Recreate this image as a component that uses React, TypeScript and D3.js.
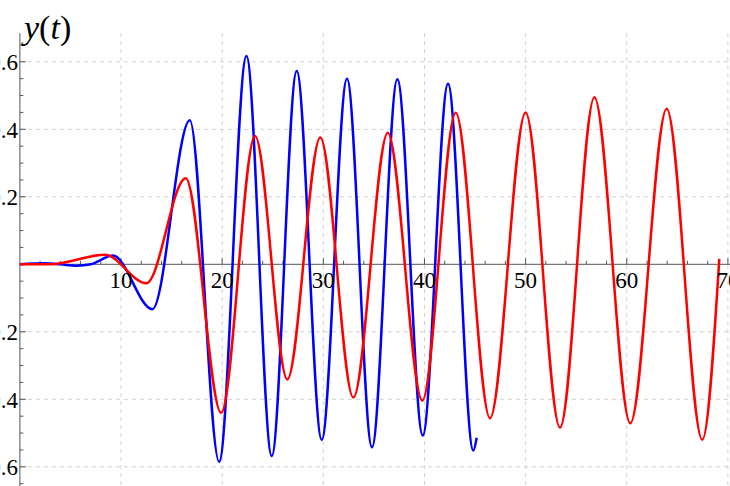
import React from "react";
import * as d3 from "d3";

// Key points (extrema): [t, y]
const blueT = [0, 2.5, 4.0, 5.6, 7.0, 9.2, 13.1, 16.8, 19.7, 22.4, 24.9, 27.37, 29.84, 32.34, 34.81, 37.32, 39.83, 42.33, 44.83, 45.16];
const blueY = [0, 0.003, 0, -0.004, 0.0, 0.026, -0.133, 0.427, -0.585, 0.617, -0.568, 0.573, -0.52, 0.55, -0.542, 0.548, -0.507, 0.535, -0.552, -0.514];

const redT = [0, 3.0, 8.4, 12.5, 16.4, 19.9, 23.25, 26.44, 29.7, 32.97, 36.37, 39.79, 43.09, 46.48, 50.0, 53.4, 56.8, 60.35, 63.95, 67.47, 69.15];
const redY = [0, 0, 0.028, -0.056, 0.255, -0.44, 0.38, -0.341, 0.376, -0.395, 0.39, -0.404, 0.449, -0.456, 0.45, -0.484, 0.495, -0.471, 0.461, -0.52, 0.016];

const xTicks = [10, 20, 30, 40, 50, 60, 70];
const xTickLabels = ["10", "20", "30", "40", "50", "60", "70"];
const yTicks = [-0.6, -0.4, -0.2, 0.2, 0.4, 0.6];
const yTickLabels = ["-0.6", "-0.4", "-0.2", "0.2", "0.4", "0.6"];

const W = 730;
const H = 486;

export default function App() {
  const x = d3.scaleLinear().domain([0, 70]).range([19.9, 727.9]);
  const y = d3.scaleLinear().domain([-0.6, 0.6]).range([466.8, 61.8]);

  const line = d3
    .line<[number, number]>()
    .x((d) => x(d[0]))
    .y((d) => y(d[1]))
    .curve(d3.curveMonotoneX);

  const blue = blueT.map((t, i) => [t, blueY[i]] as [number, number]);
  const red = redT.map((t, i) => [t, redY[i]] as [number, number]);

  const xMinor = d3.range(2, 72, 2).filter((t) => t % 10 !== 0);
  const yMinor = d3.range(-13, 14).map((k) => k * 0.05).filter((v) => Math.abs(Math.round(v * 100)) % 20 !== 0);

  const axisColor = "#555";
  const gridColor = "#d0d0d0";
  const font = "'Liberation Serif', 'DejaVu Serif', serif";

  return (
    <svg
      width={W}
      height={H}
      style={{ position: "absolute", left: 0, top: 0, background: "#fff" }}
    >
      {/* grid */}
      {xTicks.map((t) => (
        <line key={"gx" + t} x1={x(t)} x2={x(t)} y1={y(0.685)} y2={H} stroke={gridColor} strokeDasharray="4,4" strokeWidth={1} />
      ))}
      {yTicks.map((v) => (
        <line key={"gy" + v} x1={x(0)} x2={W} y1={y(v)} y2={y(v)} stroke={gridColor} strokeDasharray="4,4" strokeWidth={1} />
      ))}

      {/* axes */}
      <line x1={x(0)} x2={x(0)} y1={y(0.685)} y2={H} stroke={axisColor} strokeWidth={1} />
      <line x1={x(0)} x2={W} y1={y(0)} y2={y(0)} stroke={axisColor} strokeWidth={1} />

      {/* x ticks */}
      {xTicks.map((t) => (
        <line key={"xt" + t} x1={x(t)} x2={x(t)} y1={y(0)} y2={y(0) - 6} stroke={axisColor} />
      ))}
      {xMinor.map((t) => (
        <line key={"xm" + t} x1={x(t)} x2={x(t)} y1={y(0)} y2={y(0) - 3.5} stroke={axisColor} />
      ))}
      {/* y ticks */}
      {yTicks.map((v) => (
        <line key={"yt" + v} x1={x(0)} x2={x(0) + 6} y1={y(v)} y2={y(v)} stroke={axisColor} />
      ))}
      {yMinor.map((v) => (
        <line key={"ym" + v} x1={x(0)} x2={x(0) + 3.5} y1={y(v)} y2={y(v)} stroke={axisColor} />
      ))}

      {/* curves */}
      <path d={line(blue) || ""} fill="none" stroke="#0000ff" strokeWidth={2.5} />
      <path d={line(red) || ""} fill="none" stroke="#ff0000" strokeWidth={2.5} />

      {/* tick labels */}
      {xTicks.map((t, i) => (
        <text key={"xl" + t} x={x(t)} y={y(0) + 24} textAnchor="middle" fontFamily={font} fontSize={23} fill="#000">
          {xTickLabels[i]}
        </text>
      ))}
      {yTicks.map((v, i) => (
        <text key={"yl" + v} x={x(0) - 2} y={y(v) + 8.5} textAnchor="end" fontFamily={font} fontSize={23} fill="#000">
          {yTickLabels[i]}
        </text>
      ))}

      {/* axis label */}
      <text x={24} y={39} fontFamily={font} fontSize={34} fill="#000">
        <tspan fontStyle="italic">y</tspan>
        <tspan>(</tspan>
        <tspan fontStyle="italic">t</tspan>
        <tspan>)</tspan>
      </text>
    </svg>
  );
}
